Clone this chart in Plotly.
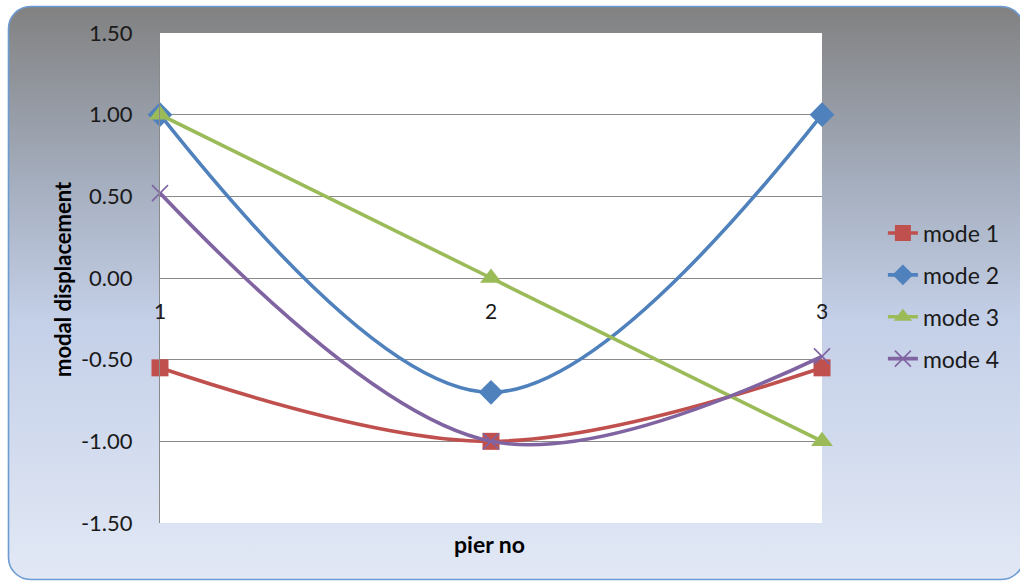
import base64
import plotly.graph_objects as go

# Pier numbers and modal displacement values per mode
piers = [1, 2, 3]
pier_labels = ["1", "2", "3"]
mode1 = [-0.55, -1.00, -0.55]
mode2 = [1.00, -0.70, 1.00]
mode3 = [1.00, 0.00, -1.00]
mode4 = [0.52, -1.00, -0.48]

y_ticks = [-1.5, -1.0, -0.5, 0.0, 0.5, 1.0, 1.5]
y_tick_text = [f"{v:.2f}" for v in y_ticks]

W, H = 1020, 582
L, R, T, B = 160, 198, 33, 59
PW, PH = W - L - R, H - T - B

FONT = "Lato, 'Open Sans', sans-serif"

series = [
    ("mode 1", mode1, "#c0504d", dict(symbol="square", size=17)),
    ("mode 2", mode2, "#4f81bd", dict(symbol="diamond", size=19)),
    ("mode 3", mode3, "#9bbb59", dict(symbol="triangle-up", size=19)),
    ("mode 4", mode4, "#8064a2", dict(symbol="x-thin", size=16,
                                      line=dict(width=1.6, color="#8064a2"))),
]

fig = go.Figure()
for i, (name, vals, color, marker) in enumerate(series):
    fig.add_trace(go.Scatter(
        x=piers, y=vals, name=name, mode="lines+markers",
        line=dict(color=color, width=3.6, shape="spline", smoothing=1.0),
        marker=dict(color=color, **marker),
        legendgroup=f"g{i}", cliponaxis=False,
    ))

# Chart-area background: rounded panel with a grey-to-blue vertical gradient
svg = f"""<svg xmlns='http://www.w3.org/2000/svg' width='{W}' height='{H}' viewBox='0 0 {W} {H}' preserveAspectRatio='none'>
<defs><linearGradient id='g' x1='0' y1='0' x2='0' y2='1'>
<stop offset='0' stop-color='#818181'/>
<stop offset='0.3' stop-color='#a4adbd'/>
<stop offset='0.55' stop-color='#c4d0e8'/>
<stop offset='1' stop-color='#e2e8f5'/>
</linearGradient></defs>
<rect x='8.5' y='6.5' width='1015' height='573' rx='22' ry='22' fill='url(#g)' stroke='#6c9bd2' stroke-width='1.6'/>
</svg>"""
src = "data:image/svg+xml;base64," + base64.b64encode(svg.encode()).decode()

fig.add_layout_image(
    source=src, xref="paper", yref="paper",
    x=-L / PW, y=1 + T / PH, sizex=W / PW, sizey=H / PH,
    xanchor="left", yanchor="top", sizing="stretch", layer="below",
)
# white plot area on top of the panel
fig.add_shape(type="rect", xref="paper", yref="paper", x0=0, x1=1, y0=0, y1=1,
              fillcolor="white", line=dict(width=0), layer="below")

fig.add_annotation(text="<b>modal displacement</b>", xref="paper", yref="paper",
                   x=(62 - L) / PW, y=(T + PH - 279) / PH, xanchor="center",
                   yanchor="middle", textangle=-90, showarrow=False,
                   font=dict(family=FONT, size=22, color="#000000"))
fig.add_annotation(text="<b>pier no</b>", xref="paper", yref="paper",
                   x=(489 - L) / PW, y=-(544 - (T + PH)) / PH, xanchor="center",
                   yanchor="middle", showarrow=False,
                   font=dict(family=FONT, size=23, color="#000000"))

fig.update_layout(
    width=W, height=H,
    margin=dict(l=L, r=R, t=T, b=B),
    paper_bgcolor="white", plot_bgcolor="white",
    font=dict(family=FONT, size=21, color="#1a1a1a"),
    showlegend=True,
    legend=dict(x=1.092, y=(T + PH - 296) / PH, xanchor="left", yanchor="middle",
                bgcolor="rgba(0,0,0,0)", font=dict(family=FONT, size=23, color="#1a1a1a"),
                traceorder="grouped", tracegroupgap=9),
    xaxis=dict(range=[1, 3], tickvals=piers, ticktext=pier_labels,
               anchor="free", position=0.5, showgrid=False, zeroline=False,
               showline=False, ticks="", ticklabelstandoff=19,
               tickfont=dict(family=FONT, size=21, color="#1a1a1a")),
    yaxis=dict(range=[-1.5, 1.5], tickvals=y_ticks, ticktext=y_tick_text,
               showgrid=True, gridcolor="#8a8a8a", gridwidth=1,
               zeroline=False, showline=True, linecolor="#8a8a8a", linewidth=1,
               ticks="", ticklabelstandoff=22,
               tickfont=dict(family=FONT, size=22, color="#1a1a1a")),
)

fig.write_html("out.html")
